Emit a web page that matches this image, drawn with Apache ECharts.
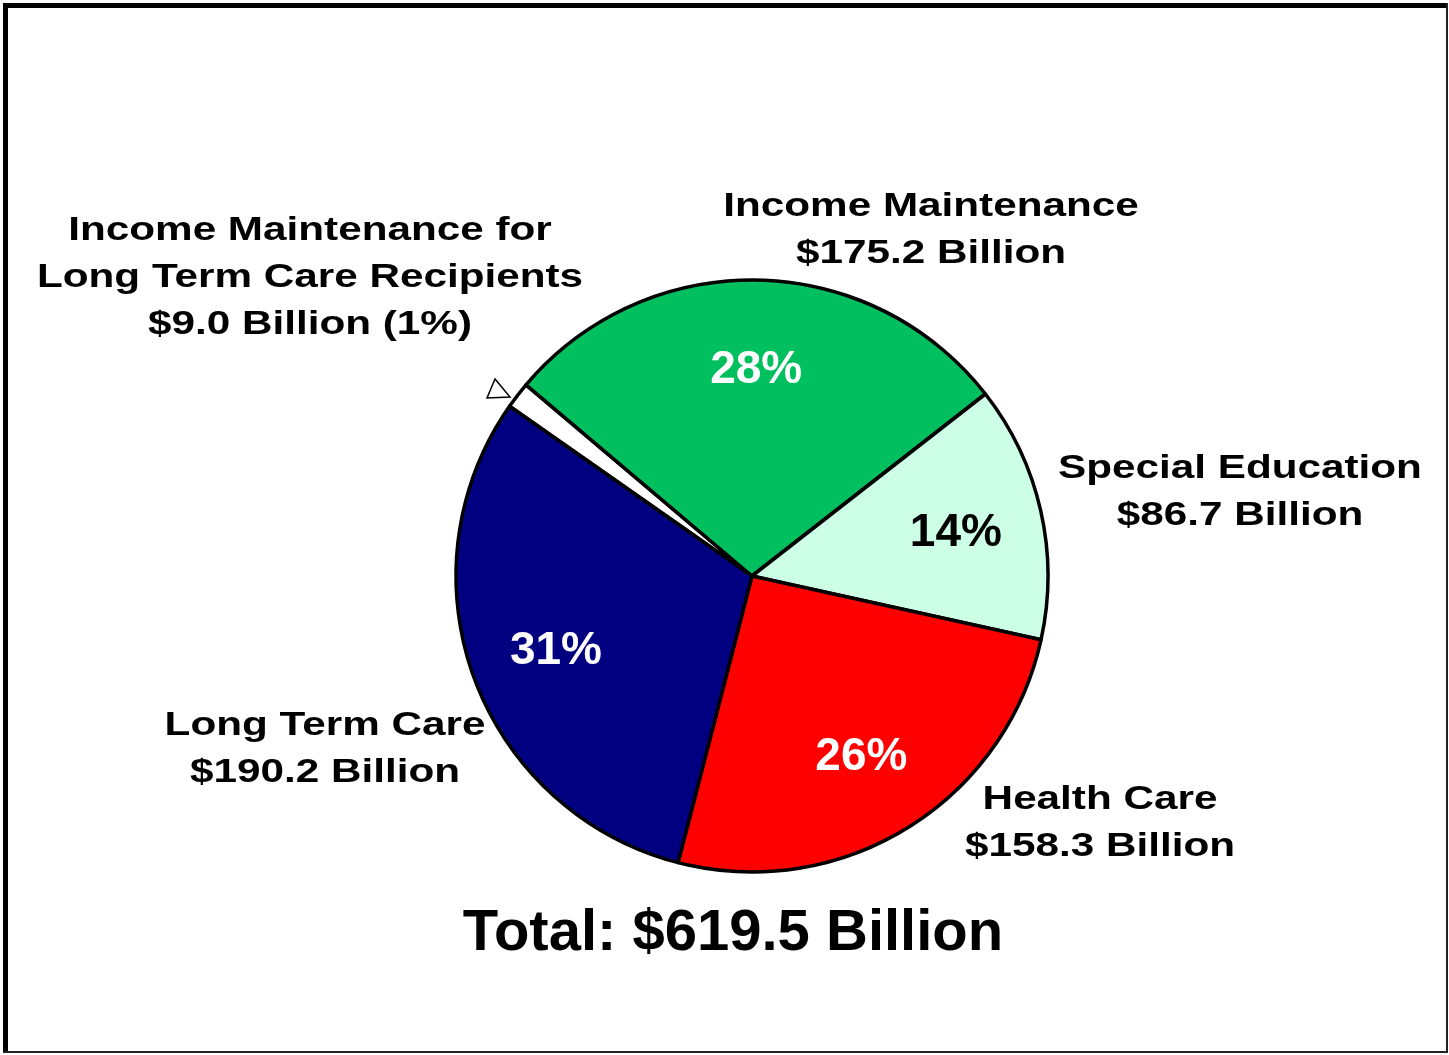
<!DOCTYPE html>
<html>
<head>
<meta charset="utf-8">
<script src="https://cdn.jsdelivr.net/npm/echarts@6/dist/echarts.min.js"></script>
<style>
html,body{margin:0;padding:0;background:#fff;}
#chart{width:1449px;height:1055px;}
</style>
</head>
<body>
<div id="chart"></div>
<script>
// ---- data ----
const categories = ['Income Maintenance for Long Term Care Recipients', 'Income Maintenance', 'Special Education', 'Health Care', 'Long Term Care'];
const labelNames = ['Income Maintenance for\nLong Term Care Recipients', 'Income Maintenance', 'Special Education', 'Health Care', 'Long Term Care'];
const values = [9.0, 175.2, 86.7, 158.3, 190.2];
const totalText = 'Total: $619.5 Billion';

// ---- style ----
const colors = ['#FFFFFF', '#00BF5F', '#CCFFE5', '#FF0000', '#000080'];
const pctColors = ['#000000', '#FFFFFF', '#000000', '#FFFFFF', '#FFFFFF'];
const FONT = '"Liberation Sans", Arial, Helvetica, sans-serif';
const labelPos = [[310, 278], [931, 230], [1240, 492], [1100, 823], [325, 749]];

const total = values.reduce((a, b) => a + b, 0);
const pct = values.map(v => Math.round(v / total * 100));

const chart = echarts.init(document.getElementById('chart'));

const pieData = categories.map((c, i) => ({
  name: c, value: values[i],
  itemStyle: { color: colors[i] }
}));
const labelData = categories.map((c, i) => ({
  name: c, value: values[i],
  label: { show: i !== 0, color: pctColors[i] }
}));

const graphics = [];
categories.forEach((c, i) => {
  let txt = labelNames[i] + '\n$' + values[i].toFixed(1) + ' Billion' + (i === 0 ? ' (' + pct[i] + '%)' : '');
  graphics.push({
    type: 'text', x: labelPos[i][0], y: labelPos[i][1], scaleX: 1.28, z: 10,
    style: {
      text: txt, align: 'center', verticalAlign: 'middle',
      textAlign: 'center', textVerticalAlign: 'middle',
      fontFamily: FONT, fontWeight: 'bold', fontSize: 33, lineHeight: 47, fill: '#000'
    }
  });
});
graphics.push({
  type: 'text', x: 733, y: 934, z: 10,
  style: {
    text: totalText, align: 'center', verticalAlign: 'middle',
    textAlign: 'center', textVerticalAlign: 'middle',
    fontFamily: FONT, fontWeight: 'bold', fontSize: 58, fill: '#000'
  }
});
// small marker triangle
graphics.push({
  type: 'polygon', z: 10,
  shape: { points: [[495, 379], [487, 398], [510, 397]] },
  style: { fill: '#fff', stroke: '#000', lineWidth: 1.5 }
});
// frame
graphics.push({ type: 'line', z: 20, shape: { x1: 3, y1: 5.5, x2: 1448, y2: 5.5 }, style: { stroke: '#000', lineWidth: 5 } });
graphics.push({ type: 'line', z: 20, shape: { x1: 5.5, y1: 3, x2: 5.5, y2: 1053 }, style: { stroke: '#000', lineWidth: 5 } });
graphics.push({ type: 'line', z: 20, shape: { x1: 1447, y1: 3, x2: 1447, y2: 1053 }, style: { stroke: '#222', lineWidth: 2 } });
graphics.push({ type: 'line', z: 20, shape: { x1: 3, y1: 1052, x2: 1448, y2: 1052 }, style: { stroke: '#222', lineWidth: 2 } });

chart.setOption({
  animation: false,
  backgroundColor: '#fff',
  series: [
    {
      type: 'pie',
      center: [752, 576],
      radius: [0, 296],
      startAngle: 145,
      clockwise: true,
      silent: true,
      label: { show: false },
      labelLine: { show: false },
      itemStyle: { borderColor: '#000', borderWidth: 3.5 },
      data: pieData
    },
    {
      type: 'pie',
      center: [752, 579],
      radius: [116, 296],
      startAngle: 145,
      clockwise: true,
      silent: true,
      avoidLabelOverlap: false,
      itemStyle: { color: 'rgba(0,0,0,0)', borderWidth: 0 },
      label: {
        show: true, position: 'inside',
        formatter: p => pct[p.dataIndex] + '%',
        fontFamily: FONT, fontWeight: 'bold', fontSize: 46
      },
      labelLine: { show: false },
      data: labelData
    }
  ],
  graphic: graphics
});
</script>
</body>
</html>
